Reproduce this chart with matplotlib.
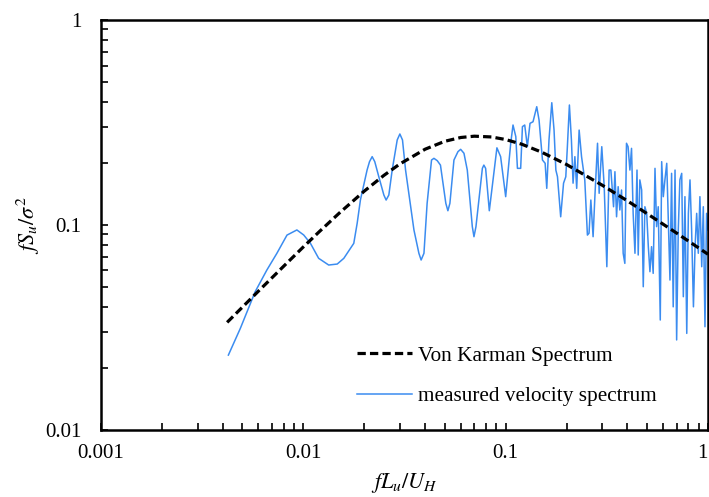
import matplotlib
matplotlib.use("Agg")
import matplotlib.pyplot as plt
from matplotlib.ticker import FixedLocator, FixedFormatter, LogLocator, NullFormatter

plt.rcParams['font.family'] = ['Liberation Serif', 'DejaVu Serif']
plt.rcParams['mathtext.fontset'] = 'stix'

# von karman spectrum
vk_x = [0.0042, 0.006, 0.008, 0.01, 0.012, 0.015, 0.02, 0.025, 0.03, 0.04, 0.05,
        0.06, 0.07, 0.085, 0.1, 0.12, 0.15, 0.2, 0.3, 0.4, 0.5, 0.7, 1.0]
vk_y = [0.0335, 0.0476, 0.063, 0.0782, 0.0929, 0.114, 0.1463, 0.1746, 0.1986, 0.2344, 0.2561,
        0.2673, 0.2712, 0.2689, 0.2612, 0.2479, 0.2271, 0.1973, 0.1564, 0.1311, 0.1136, 0.0913, 0.072]

# measured velocity spectrum
meas_x = [0.00426, 0.00488, 0.00578, 0.0066, 0.0074, 0.0083, 0.00929, 0.01004, 0.01084, 0.0119,
          0.01334, 0.0147, 0.01585, 0.01775, 0.01845, 0.01914, 0.02065, 0.02123, 0.02188, 0.02254,
          0.0236, 0.025, 0.02565, 0.02645, 0.02748, 0.0291, 0.02999, 0.0309, 0.032, 0.0352,
          0.03724, 0.0382, 0.03945, 0.0409, 0.043, 0.0442, 0.0459, 0.0476, 0.0506, 0.0518,
          0.053, 0.0555, 0.0581, 0.0599, 0.0622, 0.0646, 0.0684, 0.0697, 0.0713, 0.0767,
          0.078, 0.0796, 0.083, 0.0905, 0.0944, 0.1, 0.1059, 0.1087, 0.1122, 0.1143,
          0.1186, 0.121, 0.1242, 0.128, 0.1319, 0.1365, 0.1424, 0.1462, 0.152, 0.1567,
          0.1596, 0.1637, 0.169, 0.1734, 0.177, 0.1803, 0.187, 0.1932, 0.1982, 0.2018,
          0.2065, 0.2113, 0.2153, 0.2198, 0.2244, 0.2307, 0.2371, 0.246, 0.2535, 0.2582,
          0.2636, 0.2704, 0.276, 0.2844, 0.2897, 0.2985, 0.3069, 0.3162, 0.3245, 0.3311,
          0.3413, 0.3467, 0.3532, 0.3597, 0.3666, 0.3738, 0.3808, 0.3881, 0.3955, 0.4027,
          0.4111, 0.4188, 0.4266, 0.4355, 0.4457, 0.4519, 0.4603, 0.4699, 0.4786, 0.4875,
          0.4977, 0.507, 0.5164, 0.526, 0.5358, 0.547, 0.557, 0.5675, 0.5808, 0.5902,
          0.6012, 0.6124, 0.6252, 0.6353, 0.6486, 0.6607, 0.673, 0.6871, 0.6998, 0.7129,
          0.7261, 0.7413, 0.7551, 0.7691, 0.7852, 0.7998, 0.8147, 0.8299, 0.8472, 0.863,
          0.879, 0.8954, 0.912, 0.931, 0.948, 0.966, 0.984, 1.0]
meas_y = [0.0232, 0.0313, 0.0473, 0.0603, 0.0728, 0.0893, 0.0946, 0.0894, 0.0814, 0.0688,
          0.0638, 0.0645, 0.0688, 0.0814, 0.102, 0.1324, 0.1854, 0.2037, 0.2155, 0.2037,
          0.172, 0.14, 0.1324, 0.14, 0.1854, 0.26, 0.278, 0.26, 0.1854, 0.0946,
          0.0728, 0.0675, 0.0728, 0.1276, 0.2075, 0.2115, 0.206, 0.196, 0.1276, 0.1174,
          0.1276, 0.2075, 0.228, 0.234, 0.2239, 0.1854, 0.0982, 0.0877, 0.0982, 0.189,
          0.196, 0.189, 0.1174, 0.238, 0.2155, 0.1375, 0.2505, 0.3075, 0.27, 0.189,
          0.189, 0.302, 0.3075, 0.241, 0.3134, 0.319, 0.3777, 0.325, 0.2075, 0.2,
          0.151, 0.26, 0.395, 0.2905, 0.1854, 0.172, 0.1097, 0.16, 0.172, 0.241,
          0.385, 0.26, 0.16, 0.2155, 0.151, 0.2905, 0.2155, 0.166, 0.0893, 0.0912,
          0.1324, 0.0877, 0.1375, 0.2505, 0.1428, 0.241, 0.1538, 0.0626, 0.1854, 0.1854,
          0.1228, 0.182, 0.1097, 0.1538, 0.1184, 0.1482, 0.0728, 0.065, 0.2505, 0.241,
          0.1854, 0.2366, 0.114, 0.0728, 0.1854, 0.0714, 0.166, 0.1482, 0.05, 0.1228,
          0.114, 0.0784, 0.0592, 0.0784, 0.0581, 0.189, 0.0982, 0.1228, 0.0344, 0.2037,
          0.1375, 0.166, 0.2, 0.114, 0.0539, 0.1787, 0.0399, 0.1854, 0.0275, 0.0946,
          0.166, 0.1787, 0.0447, 0.1375, 0.0296, 0.114, 0.166, 0.0946, 0.0399, 0.0784,
          0.114, 0.0728, 0.1375, 0.0626, 0.1228, 0.0319, 0.114, 0.0946]

x_ticks = [0.001, 0.01, 0.1, 1]
x_ticklabels = ['0.001', '0.01', '0.1', '1']
y_ticks = [0.01, 0.1, 1]
y_ticklabels = ['0.01', '0.1', '1']

fig = plt.figure(figsize=(7.09, 4.97), dpi=100)
ax = fig.add_axes([0.1425, 0.1348, 0.8561, 0.8249])

ax.plot(vk_x, vk_y, color='black', lw=2.3, dashes=(2.6, 1.3), label='Von Karman Spectrum', zorder=3)
ax.plot(meas_x, meas_y, color='#3b8cf0', lw=1.1, label='measured velocity spectrum', zorder=2)

ax.set_xscale('log')
ax.set_yscale('log')
ax.set_xlim(0.001, 1)
ax.set_ylim(0.01, 1)

ax.xaxis.set_major_locator(FixedLocator(x_ticks))
ax.xaxis.set_major_formatter(FixedFormatter(x_ticklabels))
ax.yaxis.set_major_locator(FixedLocator(y_ticks))
ax.yaxis.set_major_formatter(FixedFormatter(y_ticklabels))
ax.xaxis.set_minor_locator(LogLocator(base=10, subs=range(2, 10)))
ax.yaxis.set_minor_locator(LogLocator(base=10, subs=range(2, 10)))
ax.xaxis.set_minor_formatter(NullFormatter())
ax.yaxis.set_minor_formatter(NullFormatter())

ax.tick_params(which='both', direction='in', top=False, right=False, width=1.2, labelsize=15)
ax.tick_params(which='major', length=5)
ax.tick_params(which='minor', length=5)
ax.tick_params(axis='y', pad=14)
ax.tick_params(axis='x', pad=10)
for s in ax.spines.values():
    s.set_linewidth(1.8)

# keep the "1" at the right edge inside the figure
ax.get_xticklabels()[-1].set_horizontalalignment('right')

ax.set_xlabel(r'$fL_u/U_H$', fontsize=16, labelpad=6)
ax.set_ylabel(r'$fS_u/\sigma^2$', fontsize=16, labelpad=2)

ax.legend(loc='upper left', bbox_to_anchor=(357 / 709, 1 - 346 / 497), bbox_transform=fig.transFigure,
          frameon=False, fontsize=15.3, handlelength=2.6, handletextpad=0.25, labelspacing=0.95,
          borderpad=0, borderaxespad=0)

fig.savefig('out.png', dpi=100)
